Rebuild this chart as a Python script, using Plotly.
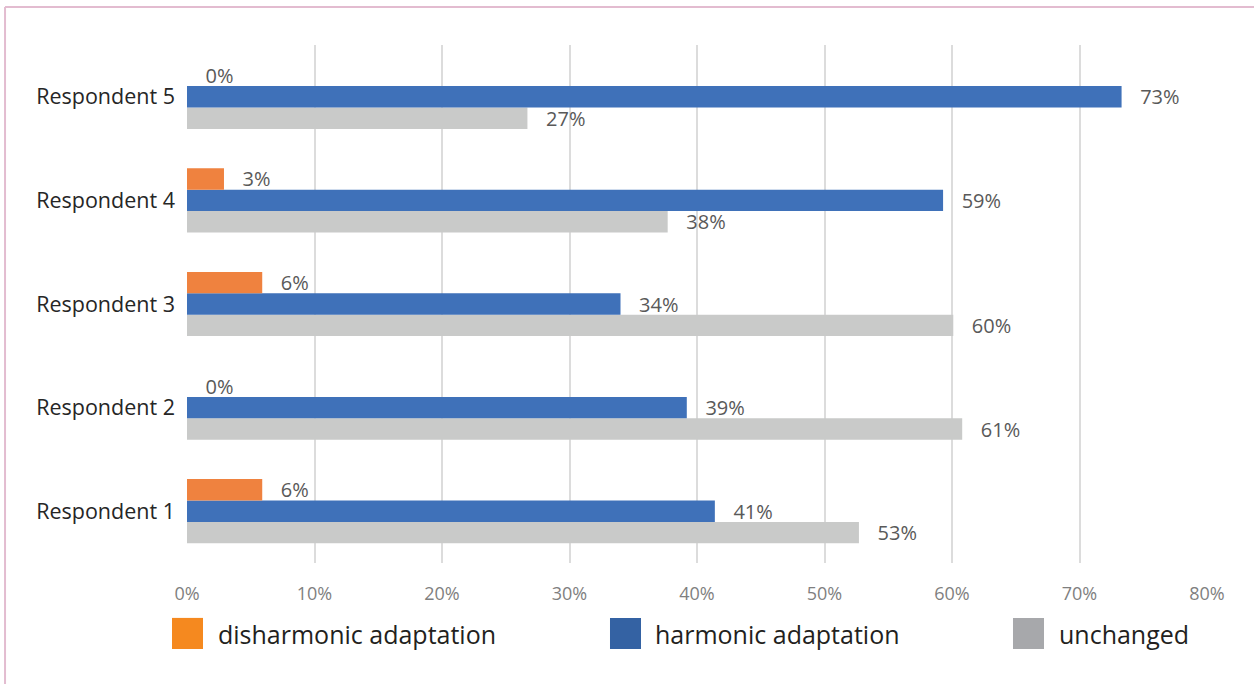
import plotly.graph_objects as go

# 数据
respondents = ['Respondent 1', 'Respondent 2', 'Respondent 3', 'Respondent 4', 'Respondent 5']
disharmonic = [5.9, 0.0, 5.9, 2.9, 0.0]
harmonic = [41.4, 39.2, 34.0, 59.3, 73.3]
unchanged = [52.7, 60.8, 60.1, 37.7, 26.7]
x_ticks = [0, 10, 20, 30, 40, 50, 60, 70, 80]
x_ticktext = [f'{v}%' for v in x_ticks]

series_names = ['disharmonic adaptation', 'harmonic adaptation', 'unchanged']
bar_colors = ['#EF823F', '#3F71B9', '#C9CAC9']
legend_colors = ['#F5891F', '#3462A3', '#A7A8AB']

FONT = 'Open Sans'

fig = go.Figure()
# 水平分组时第一条trace在最下面，所以倒序添加
for name, vals, col in [(series_names[2], unchanged, bar_colors[2]),
                        (series_names[1], harmonic, bar_colors[1]),
                        (series_names[0], disharmonic, bar_colors[0])]:
    fig.add_trace(go.Bar(
        y=respondents, x=vals, orientation='h', name=name,
        marker=dict(color=col, line=dict(width=0)),
        texttemplate='\u00a0\u00a0\u00a0%{x:.0f}%', textposition='outside',
        constraintext='none',
        textfont=dict(family=FONT, size=20, color='#595959'),
        cliponaxis=False, showlegend=False,
    ))

fig.update_layout(
    width=1254, height=684,
    margin=dict(l=187, r=47, t=45, b=121),
    paper_bgcolor='white', plot_bgcolor='white',
    barmode='group', bargap=0.38, bargroupgap=0,
    font=dict(family=FONT),
)
fig.update_xaxes(range=[0, 80], tickvals=x_ticks, ticktext=x_ticktext,
                 showgrid=True, gridcolor='#DCDCDC', gridwidth=2,
                 zeroline=False, showline=False, ticks='',
                 tickfont=dict(family=FONT, size=18, color='#7F7F7F'), ticklabelstandoff=18)
fig.update_yaxes(showgrid=False, zeroline=False, showline=False, ticks='',
                 tickfont=dict(family=FONT, size=21.5, color='#262626'), ticklabelstandoff=11)

# 手工图例（色块+文字）
leg_x0 = [-0.0147, 0.4147, 0.8098]
leg_tx = [0.0284, 0.457, 0.853]
for i in range(3):
    fig.add_shape(type='rect', xref='paper', yref='paper',
                  x0=leg_x0[i], x1=leg_x0[i] + 0.0304, y0=-0.166, y1=-0.106,
                  fillcolor=legend_colors[i], line=dict(width=0))
    fig.add_annotation(xref='paper', yref='paper', x=leg_tx[i], y=-0.137,
                       xanchor='left', yanchor='middle', showarrow=False,
                       text=series_names[i],
                       font=dict(family=FONT, size=25, color='#231F20'))

# 外框（粉色，上边和左边）
fig.add_shape(type='line', xref='paper', yref='paper', x0=-0.1784, x1=1.1, y0=1.0734, y1=1.0734,
              line=dict(color='#E3BCD0', width=2))
fig.add_shape(type='line', xref='paper', yref='paper', x0=-0.1784, x1=-0.1784, y0=1.0734, y1=-0.25,
              line=dict(color='#E3BCD0', width=2))

# 去掉页面body默认的8px边距
fig.write_html('out.html', config={'displayModeBar': False},
               post_script="document.body.style.margin='0';")
